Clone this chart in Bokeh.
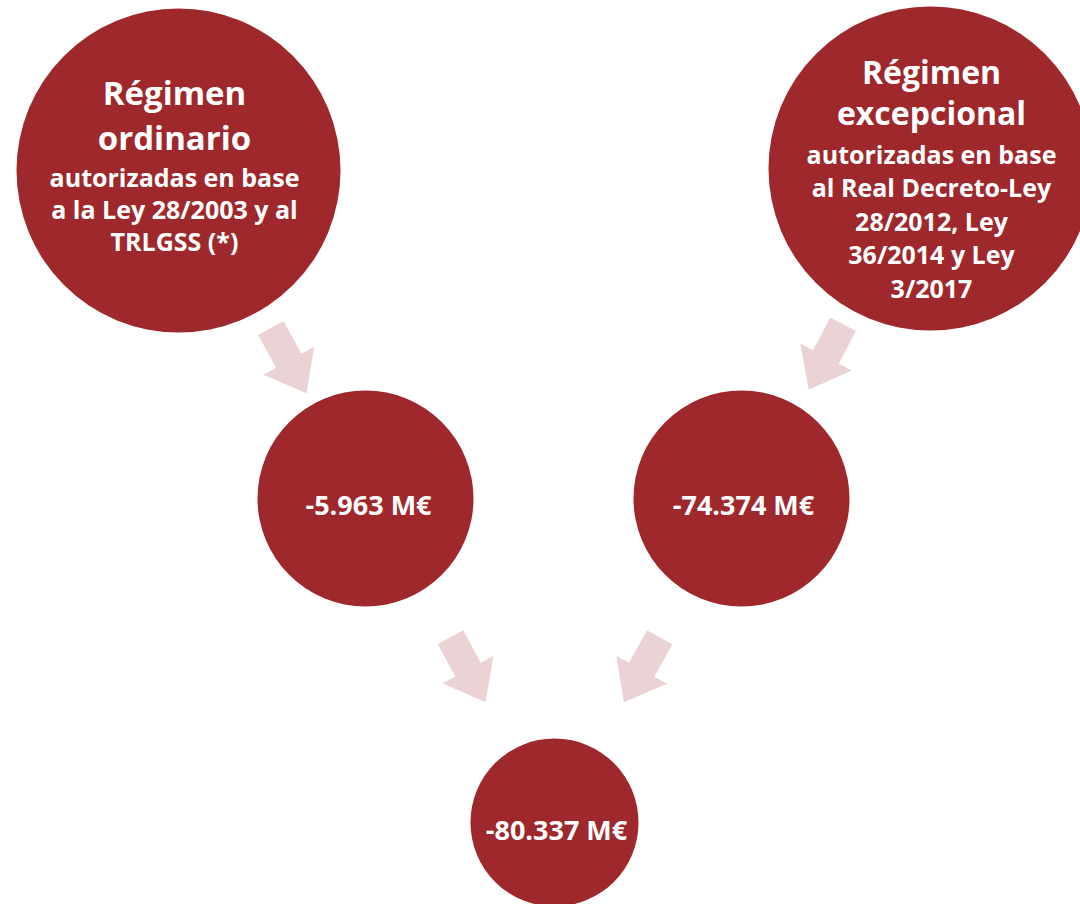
import numpy as np
from bokeh.plotting import figure
from bokeh.models import Range1d, ColumnDataSource
from bokeh.core.properties import value
from bokeh.embed import file_html
from bokeh.resources import INLINE

# ---- data ----
values = [-5.963, -74.374, -80.337]          # M€: ordinario, excepcional, total
title_left = ["Régimen", "ordinario"]
sub_left = ["autorizadas en base", "a la Ley 28/2003 y al", "TRLGSS (*)"]
title_right = ["Régimen", "excepcional"]
sub_right = ["autorizadas en base", "al Real Decreto-Ley", "28/2012, Ley", "36/2014 y Ley", "3/2017"]

def fmt(v):
    return ("-" if v < 0 else "") + f"{abs(v):.3f}" + " M€"

value_labels = [fmt(v) for v in values]

# ---- layout (pixel space of the image) ----
W, H = 1080, 904
X0, Y0 = 0, 0
RED = "#9E282C"
PINK = "#EBD3D5"
FONT = "Open Sans"

circles = dict(
    cx=[178, 930, 365, 741, 554],
    cy=[170, 168, 498, 498, 822],
    r=[162, 162, 108, 108, 84],
)
arrows = [  # (tail centre, tip)
    ((270.3, 327.5), (306.0, 392.7)),
    ((842.5, 323.7), (808.3, 389.3)),
    ((450.0, 636.7), (485.0, 701.7)),
    ((659.2, 636.7), (623.3, 701.7)),
]
SHAFT_HW, HEAD_HW, HEAD_LEN = 14.5, 29.0, 37.0

def arrow_poly(tail, tip):
    t = np.array(tail); e = np.array(tip)
    d = e - t
    L = np.hypot(*d)
    u = d / L
    n = np.array([-u[1], u[0]])
    b = t + u * (L - HEAD_LEN)
    pts = [t + n * SHAFT_HW, b + n * SHAFT_HW, b + n * HEAD_HW, e,
           b - n * HEAD_HW, b - n * SHAFT_HW, t - n * SHAFT_HW]
    return [p[0] for p in pts], [p[1] for p in pts]

p = figure(width=W, height=H, output_backend="svg", toolbar_location=None,
           x_range=Range1d(X0, X0 + W), y_range=Range1d(Y0 + H, Y0),
           min_border=0)
p.axis.visible = False
p.grid.visible = False
p.outline_line_color = None
p.background_fill_color = "white"
p.border_fill_color = "white"

xs, ys = zip(*[arrow_poly(a, b) for a, b in arrows])
p.patches(list(xs), list(ys), fill_color=PINK, line_color=None)

p.circle(x="cx", y="cy", radius="r", source=ColumnDataSource(circles),
         fill_color=RED, line_color=None)

def lines(texts, x, y0, dy, size):
    src = ColumnDataSource(dict(x=[x] * len(texts),
                                y=[y0 + i * dy for i in range(len(texts))],
                                t=texts))
    p.text(x="x", y="y", text="t", source=src, text_color="white",
           text_font=value(FONT), text_font_style="bold",
           text_font_size=size, text_align="center", text_baseline="middle")

lines(title_left, 174, 92, 45, "33px")
lines(sub_left, 174, 176, 32, "25px")
lines(title_right, 931, 71, 41, "32px")
lines(sub_right, 931, 153, 33.5, "25px")

vx = [368, 743, 556]
vy = [504, 504, 829]
p.text(x=vx, y=vy, text=value_labels, text_color="white",
       text_font=value(FONT), text_font_style="bold", text_font_size="27px",
       text_align="center", text_baseline="middle")

open("out.html", "w").write(file_html(p, INLINE))
